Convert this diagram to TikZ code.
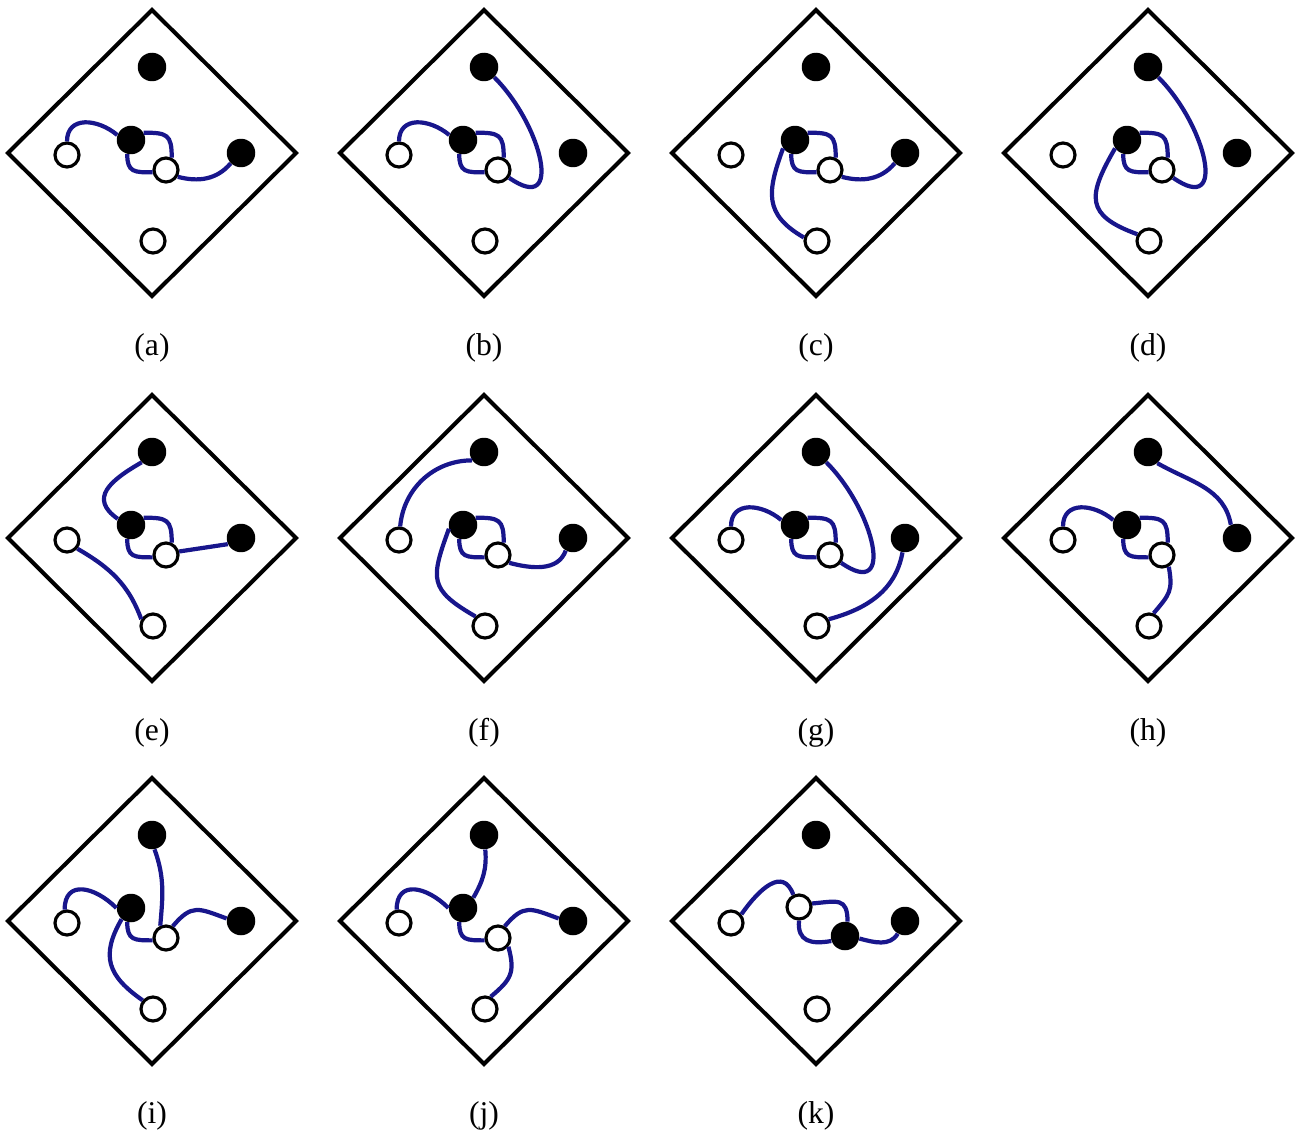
\documentclass[tikz,border=0pt]{standalone}
\usepackage{fontspec}
\setmainfont{Liberation Serif}
\usepackage{xcolor}
\definecolor{wireblue}{RGB}{24,22,140}

\begin{document}
\begin{tikzpicture}[x=0.02cm, y=0.02cm,
    frame/.style={draw, line width=2.3pt, line join=miter},
    bdot/.style={circle, fill=black, minimum size=5.7mm, inner sep=0pt},
    wdot/.style={circle, draw, fill=white, line width=1.8pt, minimum size=4.8mm, inner sep=0pt},
    wire/.style={draw=wireblue, line width=2.4pt},
    caption/.style={font=\fontsize{18}{21}\selectfont}
  ]
    \useasboundingbox (0,0) rectangle (1295,-1135);

    % panels (a)-(j) share the same six sites
    \foreach \px/\py/\tag in {152/-153/a, 484/-153/b, 816/-153/c, 1148/-153/d,
                              152/-538/e, 484/-538/f, 816/-538/g, 1148/-538/h,
                              152/-921/i, 484/-921/j} {
      \draw[frame] (\px-144,\py) -- (\px,\py+143) -- (\px+144,\py) -- (\px,\py-143) -- cycle;
      \node[bdot] (\tag-top) at (\px,\py+86) {};
      \node[wdot] (\tag-lft) at (\px-85,\py-2) {};
      \node[bdot] (\tag-rgt) at (\px+89,\py) {};
      \node[wdot] (\tag-bot) at (\px+1,\py-88) {};
      \node[bdot] (\tag-hub) at (\px-21,\py+13) {};
      \node[wdot] (\tag-ring) at (\px+14,\py-17) {};
      \node[caption] (\tag-cap) at (\px,\py-195) {(\tag)};
    }

    % panel (k): centre sites swapped
    \draw[frame] (672,-921) -- (816,-778) -- (960,-921) -- (816,-1064) -- cycle;
    \node[bdot] (k-top) at (816,-835) {};
    \node[wdot] (k-lft) at (731,-923) {};
    \node[bdot] (k-rgt) at (905,-921) {};
    \node[wdot] (k-bot) at (817,-1009) {};
    \node[wdot] (k-ring) at (799,-907) {};
    \node[bdot] (k-hub) at (845,-936) {};
    \node[caption] (k-cap) at (816,-1116) {(k)};

    % (a)
    \draw[wire] (a-lft) to[out=90,in=140,looseness=1.3] (a-hub.160);
    \draw[wire] (a-hub.30) to[out=0,in=90,looseness=1.6] (a-ring.65);
    \draw[wire] (a-hub.-105) to[out=-90,in=180,looseness=1.5] (a-ring.190);
    \draw[wire] (a-ring.-30) to[out=-15,in=-130] (a-rgt.225);

    % (b)
    \draw[wire] (b-lft) to[out=90,in=140,looseness=1.3] (b-hub.160);
    \draw[wire] (b-hub.30) to[out=0,in=90,looseness=1.6] (b-ring.65);
    \draw[wire] (b-hub.-105) to[out=-90,in=180,looseness=1.5] (b-ring.190);
    \draw[wire] (b-ring.-35) to[out=-35,in=-45,looseness=1.7] (b-top.-45);

    % (c)
    \draw[wire] (c-hub.30) to[out=0,in=90,looseness=1.6] (c-ring.65);
    \draw[wire] (c-hub.-105) to[out=-90,in=180,looseness=1.5] (c-ring.190);
    \draw[wire] (c-ring.-30) to[out=-15,in=-130] (c-rgt.225);
    \draw[wire] (c-hub.215) to[out=-110,in=150,looseness=1.3] (c-bot.165);

    % (d)
    \draw[wire] (d-hub.30) to[out=0,in=90,looseness=1.6] (d-ring.65);
    \draw[wire] (d-hub.-105) to[out=-90,in=180,looseness=1.5] (d-ring.190);
    \draw[wire] (d-ring.-35) to[out=-35,in=-45,looseness=1.7] (d-top.-45);
    \draw[wire] (d-hub.215) to[out=-120,in=160,looseness=1.6] (d-bot.150);

    % (e)
    \draw[wire] (e-top.225) to[out=210,in=145,looseness=1.5] (e-hub.155);
    \draw[wire] (e-hub.30) to[out=0,in=90,looseness=1.6] (e-ring.65);
    \draw[wire] (e-hub.-105) to[out=-90,in=180,looseness=1.5] (e-ring.190);
    \draw[wire] (e-ring.15) -- (e-rgt.205);
    \draw[wire] (e-lft.-40) to[out=-30,in=110] (e-bot.150);

    % (f)
    \draw[wire] (f-lft.85) to[out=85,in=180] (f-top.215);
    \draw[wire] (f-hub.30) to[out=0,in=90,looseness=1.6] (f-ring.65);
    \draw[wire] (f-hub.-105) to[out=-90,in=180,looseness=1.5] (f-ring.190);
    \draw[wire] (f-ring.-35) to[out=-15,in=-110] (f-rgt.240);
    \draw[wire] (f-hub.195) to[out=-110,in=150,looseness=1.5] (f-bot.135);

    % (g)
    \draw[wire] (g-lft) to[out=90,in=140,looseness=1.3] (g-hub.160);
    \draw[wire] (g-hub.30) to[out=0,in=90,looseness=1.6] (g-ring.65);
    \draw[wire] (g-hub.-105) to[out=-90,in=180,looseness=1.5] (g-ring.190);
    \draw[wire] (g-ring.-35) to[out=-35,in=-45,looseness=1.7] (g-top.-45);
    \draw[wire] (g-rgt.260) to[out=-100,in=15] (g-bot.30);

    % (h)
    \draw[wire] (h-lft) to[out=90,in=140,looseness=1.3] (h-hub.160);
    \draw[wire] (h-hub.30) to[out=0,in=90,looseness=1.6] (h-ring.65);
    \draw[wire] (h-hub.-105) to[out=-90,in=180,looseness=1.5] (h-ring.190);
    \draw[wire] (h-ring.-60) to[out=-80,in=50,looseness=1.3] (h-bot.70);
    \draw[wire] (h-top.-50) to[out=-30,in=100] (h-rgt.115);

    % (i)
    \draw[wire] (i-lft.100) to[out=90,in=135,looseness=1.5] (i-hub.180);
    \draw[wire] (i-hub.-105) to[out=-90,in=180,looseness=1.5] (i-ring.190);
    \draw[wire] (i-top.-80) to[out=-70,in=85] (i-ring.115);
    \draw[wire] (i-ring.60) to[out=50,in=160,looseness=1.4] (i-rgt.170);
    \draw[wire] (i-hub.230) to[out=-120,in=145,looseness=1.3] (i-bot.140);

    % (j)
    \draw[wire] (j-lft.100) to[out=90,in=135,looseness=1.5] (j-hub.180);
    \draw[wire] (j-top.-85) to[out=-85,in=60] (j-hub.45);
    \draw[wire] (j-hub.-105) to[out=-90,in=180,looseness=1.5] (j-ring.190);
    \draw[wire] (j-ring.60) to[out=50,in=160,looseness=1.4] (j-rgt.170);
    \draw[wire] (j-ring.-40) to[out=-75,in=40,looseness=1.3] (j-bot.65);

    % (k)
    \draw[wire] (k-lft.40) to[out=55,in=110,looseness=1.4] (k-ring.115);
    \draw[wire] (k-ring.15) to[out=5,in=90,looseness=1.6] (k-hub.80);
    \draw[wire] (k-ring.-90) to[out=-95,in=190,looseness=1.4] (k-hub.200);
    \draw[wire] (k-hub.-10) to[out=-15,in=-120] (k-rgt.240);
  \end{tikzpicture}
\end{document}
